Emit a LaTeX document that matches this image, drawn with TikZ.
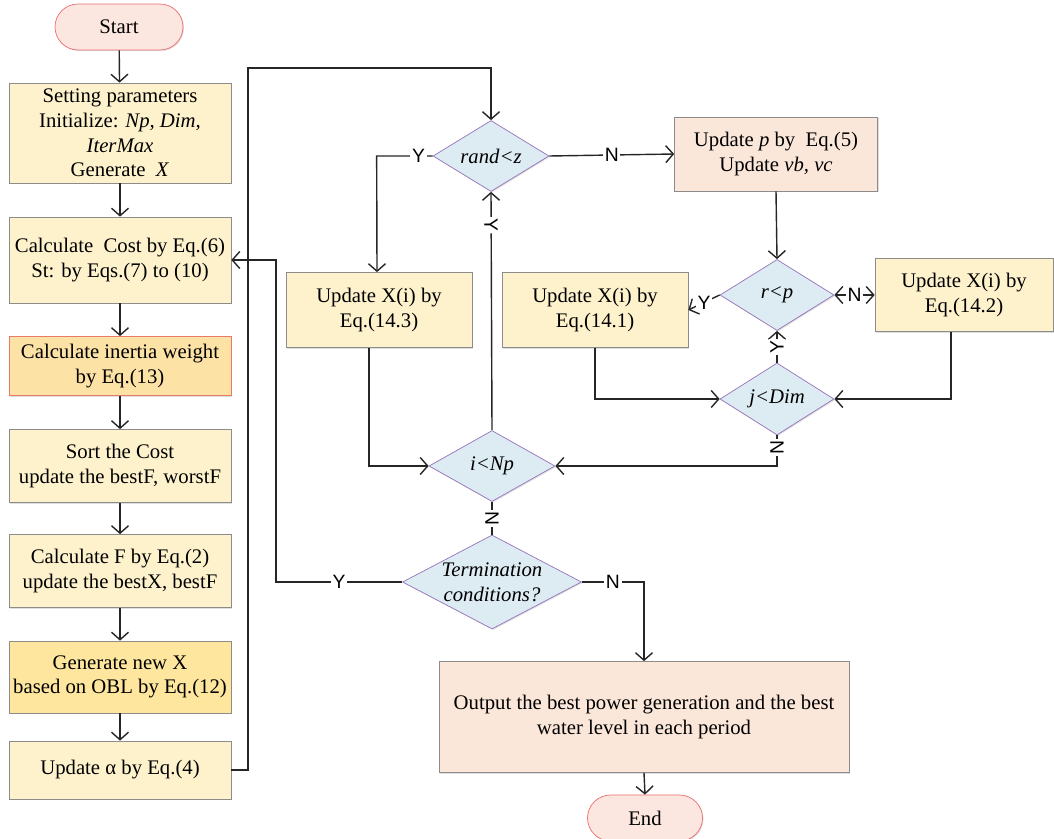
\documentclass[tikz,border=0pt]{standalone}
\usepackage{fontspec}
\setmainfont{Liberation Serif}
\setsansfont{Liberation Sans}
\usetikzlibrary{shapes.geometric,arrows.meta,shadows}

\definecolor{boxfill}{HTML}{FEF2CD}
\definecolor{boxline}{HTML}{8C8C8C}
\definecolor{inrfill}{HTML}{FDE2A6}
\definecolor{inrline}{HTML}{E8796B}
\definecolor{genfill}{HTML}{FEE69E}
\definecolor{peach}{HTML}{FBE7D9}
\definecolor{decfill}{HTML}{DDEBF3}
\definecolor{decline}{HTML}{9673B9}
\definecolor{termfill}{HTML}{FCE6E0}
\definecolor{termline}{HTML}{EE6E6E}
\definecolor{arrline}{HTML}{262626}

\begin{document}
\begin{tikzpicture}[
    x=0.02cm, y=-0.02cm,
    font=\fontsize{11.8}{14}\selectfont,
    shade/.style={drop shadow={opacity=0.25, shadow xshift=0.6pt, shadow yshift=-0.6pt}},
    procbox/.style={draw=boxline, fill=boxfill, align=center, inner sep=2pt, shade},
    decision/.style={diamond, draw=decline, fill=decfill, align=center, inner sep=0pt, aspect=1.9, font=\fontsize{11.8}{14}\selectfont\itshape, shade},
    terminal/.style={draw=termline, fill=termfill, rounded corners=0.46cm, minimum width=2.56cm, minimum height=0.92cm, shade},
    arr/.style={draw=arrline, line width=0.8pt, -{Straight Barb[length=1.5mm,width=3.4mm]}},
    ln/.style={draw=arrline, line width=0.8pt},
    lab/.style={font=\sffamily\fontsize{11}{12}\selectfont, fill=white, inner sep=1pt}
]
\useasboundingbox (0,0) rectangle (1054,838);

% left column
\node[terminal] (start) at (119,27) {Start};
\node[procbox, minimum width=4.44cm, minimum height=2.0cm] (set) at (120,133)
    {Setting parameters\\Initialize: \textit{Np, Dim,}\\\textit{IterMax}\\Generate \ \textit{X}};
\node[procbox, minimum width=4.44cm, minimum height=1.72cm] (cost) at (120,260)
    {Calculate \ Cost by Eq.(6)\\St: by Eqs.(7) to (10)};
\node[procbox, draw=inrline, fill=inrfill, minimum width=4.44cm, minimum height=1.18cm] (inr) at (120,366)
    {Calculate inertia weight\\by Eq.(13)};
\node[procbox, minimum width=4.44cm, minimum height=1.46cm] (sort) at (120,466)
    {Sort the Cost\\update the bestF, worstF};
\node[procbox, minimum width=4.44cm, minimum height=1.46cm] (calcf) at (120,571)
    {Calculate F by Eq.(2)\\update the bestX, bestF};
\node[procbox, fill=genfill, minimum width=4.44cm, minimum height=1.44cm] (gen) at (120,677)
    {Generate new X\\based on OBL by Eq.(12)};
\node[procbox, minimum width=4.44cm, minimum height=1.16cm] (ua) at (120,770)
    {Update α by Eq.(4)};

% decisions
\node[decision, aspect=1.6, minimum width=2.32cm, minimum height=1.42cm] (rand) at (491,156) {rand<z};
\node[decision, aspect=1.6, minimum width=2.28cm, minimum height=1.42cm] (rp) at (777,295) {r<p};
\node[decision, aspect=1.6, minimum width=2.28cm, minimum height=1.44cm] (jd) at (777,399) {j<Dim};
\node[decision, aspect=1.6, minimum width=2.52cm, minimum height=1.42cm] (inp) at (492,466) {i<Np};
\node[decision, minimum width=3.58cm, minimum height=1.88cm] (term) at (492,582) {Termination\\conditions?};

% update boxes
\node[procbox, fill=peach, minimum width=4.06cm, minimum height=1.48cm] (upd) at (776,154)
    {Update \textit{p} by \ Eq.(5)\\Update \textit{vb, vc}};
\node[procbox, minimum width=3.72cm, minimum height=1.5cm] (u143) at (379,310)
    {Update X(i) by\\Eq.(14.3)};
\node[procbox, minimum width=3.72cm, minimum height=1.5cm] (u141) at (595,310)
    {Update X(i) by\\Eq.(14.1)};
\node[procbox, minimum width=3.56cm, minimum height=1.46cm] (u142) at (964,295)
    {Update X(i) by\\Eq.(14.2)};
\node[procbox, fill=peach, minimum width=8.2cm, minimum height=2.22cm] (out) at (644,717)
    {Output the best power generation and the best\\water level in each period};
\node[terminal, minimum width=2.3cm] (end) at (645,818) {End};

\coordinate (loop) at (248,68);
\coordinate (back) at (276,582);

% left column arrows
\draw[arr] (start) -- (set);
\draw[arr] (set) -- (cost);
\draw[arr] (cost) -- (inr);
\draw[arr] (inr) -- (sort);
\draw[arr] (sort) -- (calcf);
\draw[arr] (calcf) -- (gen);
\draw[arr] (gen) -- (ua);
\draw[arr] (ua.east) -| (loop) -| (rand.north);

% inner loop
\draw[arr] (rand.west) -- node[lab, pos=0.25]{Y} ++(-56,0) -- (u143.north -| 377,0);
\draw[arr] (rand.east) -- node[lab]{N} (upd.west);
\draw[arr] (upd.south) -- (rp.north);
\draw[arr] (rp.west) -- node[lab]{Y} (u141.east);
\draw[arr, {Straight Barb[length=1.5mm,width=3.4mm]}-{Straight Barb[length=1.5mm,width=3.4mm]}] (rp.east) -- node[lab]{N} (u142.west);
\draw[arr] (jd.north) -- node[lab, sloped]{Y} (rp.south);
\draw[arr] (u141.south) |- (jd.west);
\draw[arr] ([xshift=-0.26cm]u142.south) |- (jd.east);
\draw[arr] (jd.south) |- node[lab, sloped, pos=0.2]{N} (inp.east);
\draw[arr] ([xshift=-0.2cm]u143.south) |- (inp.west);
\draw[arr] (inp.north) -- node[lab, sloped, pos=0.86]{Y} (rand.south);
\draw[ln] (inp.south) -- node[lab, sloped]{N} (term.north);

% termination
\draw[arr] (term.west) -- node[lab]{Y} (back) |- (cost.east);
\draw[arr] (term.east) -| node[lab, pos=0.25]{N} (out.north);
\draw[arr] (out.south) -- (end.north);
\end{tikzpicture}
\end{document}
